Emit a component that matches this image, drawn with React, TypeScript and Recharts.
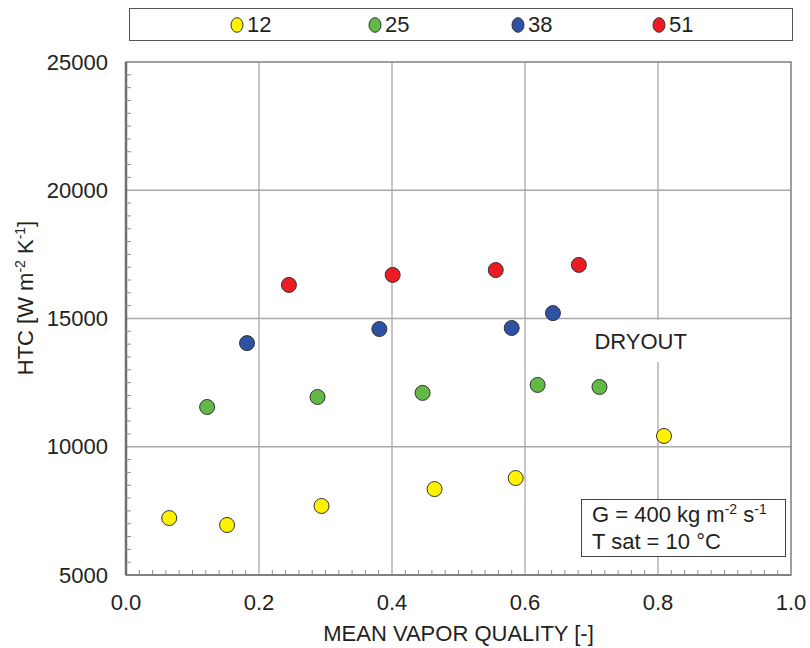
import {
  ScatterChart,
  Scatter,
  XAxis,
  YAxis,
  CartesianGrid,
  ReferenceArea,
  ReferenceDot,
} from "recharts";

const FONT = '"Liberation Sans", Arial, sans-serif';
const INK = "#231f20";
const FS = 22;

// mean vapor quality [-] vs HTC [W m-2 K-1], one list per series
const q12 = [0.065, 0.152, 0.294, 0.464, 0.586, 0.809];
const htc12 = [7220, 6950, 7690, 8350, 8780, 10420];

const q25 = [0.122, 0.288, 0.446, 0.619, 0.712];
const htc25 = [11550, 11940, 12100, 12410, 12330];

const q38 = [0.182, 0.381, 0.58, 0.642];
const htc38 = [14040, 14590, 14630, 15210];

const q51 = [0.245, 0.401, 0.556, 0.681];
const htc51 = [16310, 16700, 16890, 17090];

const xMajor = [0, 0.2, 0.4, 0.6, 0.8, 1.0];
const yMajor = [5000, 10000, 15000, 20000, 25000];

const xMinor: number[] = [];
for (let i = 0; i <= 50; i++) xMinor.push(+(i * 0.02).toFixed(2));
const yMinor: number[] = [];
for (let v = 5000; v <= 25000; v += 500) yMinor.push(v);

const toPoints = (xs: number[], ys: number[]) => xs.map((x, i) => ({ x, y: ys[i] }));

const series = [
  { name: "12", color: "#fff200", data: toPoints(q12, htc12) },
  { name: "25", color: "#62b946", data: toPoints(q25, htc25) },
  { name: "38", color: "#2e52a3", data: toPoints(q38, htc38) },
  { name: "51", color: "#ed1c24", data: toPoints(q51, htc51) },
];

const isMajor = (v: number, majors: number[]) => majors.some((m) => Math.abs(m - v) < 1e-6);

const XTick = (props: any) => {
  const { x, y, payload } = props;
  const major = isMajor(payload.value, xMajor);
  return (
    <g>
      {!major && <line x1={x} y1={y} x2={x} y2={y - 5} stroke="#8a8a8a" strokeWidth={1} />}
      {major && (
        <text x={x} y={y + 27} dy="0.35em" textAnchor="middle" fontSize={FS} fill={INK} fontFamily={FONT}>
          {payload.value.toFixed(1)}
        </text>
      )}
    </g>
  );
};

const YTick = (props: any) => {
  const { x, y, payload } = props;
  const major = isMajor(payload.value, yMajor);
  return (
    <g>
      {!major && <line x1={x} y1={y} x2={x + 5} y2={y} stroke="#8a8a8a" strokeWidth={1} />}
      {major && (
        <text x={x - 18} y={y} dy="0.35em" textAnchor="end" fontSize={FS} fill={INK} fontFamily={FONT}>
          {payload.value}
        </text>
      )}
    </g>
  );
};

const Dot = (props: any) => (
  <circle cx={props.cx} cy={props.cy} r={7.5} fill={props.fill} stroke="#333" strokeWidth={1} />
);

const Dryout = (props: any) => (
  <g>
    <rect x={props.cx - 50} y={props.cy - 21} width={100} height={42} fill="#fff" />
    <text x={props.cx} y={props.cy} dy="0.35em" textAnchor="middle" fontSize={FS} fill={INK} fontFamily={FONT}>
      DRYOUT
    </text>
  </g>
);

export default function App() {
  return (
    <div
      style={{
        position: "absolute",
        left: 0,
        top: 0,
        width: 810,
        height: 648,
        overflow: "hidden",
        background: "#fff",
        fontFamily: FONT,
        color: INK,
      }}
    >
      {/* legend */}
      <div
        style={{
          position: "absolute",
          left: 129,
          top: 8,
          width: 664,
          height: 33,
          border: "1.5px solid #555",
          boxSizing: "border-box",
          background: "#fff",
        }}
      >
        {series.map((s, i) => (
          <span
            key={s.name}
            style={{
              position: "absolute",
              left: [100, 238, 381, 522][i],
              top: 3,
              display: "flex",
              alignItems: "center",
              fontSize: FS,
              lineHeight: "25px",
            }}
          >
            <svg width={14} height={16} style={{ marginRight: 3 }}>
              <ellipse cx={7} cy={8} rx={6} ry={7.3} fill={s.color} stroke="#333" strokeWidth={1} />
            </svg>
            {s.name}
          </span>
        ))}
      </div>

      <ScatterChart width={810} height={648} margin={{ top: 62, right: 19, bottom: 0, left: 0 }}>
        <CartesianGrid
          horizontalValues={[10000, 15000, 20000]}
          verticalValues={[0.2, 0.4, 0.6, 0.8]}
          stroke="#a8a8a8"
          strokeWidth={1.3}
        />
        <XAxis
          type="number"
          dataKey="x"
          domain={[0, 1]}
          ticks={xMinor}
          interval={0}
          tickSize={0}
          tickMargin={0}
          tickLine={false}
          tick={<XTick />}
          height={73}
          axisLine={{ stroke: "#808080", strokeWidth: 2 }}
          allowDataOverflow
          label={{
            content: (p: any) => (
              <text
                x={p.viewBox.x + p.viewBox.width / 2}
                y={p.viewBox.y + 66}
                textAnchor="middle"
                fontSize={FS}
                fill={INK}
                fontFamily={FONT}
              >
                MEAN VAPOR QUALITY [-]
              </text>
            ),
          }}
        />
        <YAxis
          type="number"
          dataKey="y"
          domain={[5000, 25000]}
          ticks={yMinor}
          interval={0}
          tickSize={0}
          tickMargin={0}
          tickLine={false}
          tick={<YTick />}
          width={126}
          axisLine={{ stroke: "#6d6e71", strokeWidth: 2.5 }}
          allowDataOverflow
          label={{
            content: (p: any) => {
              const cx = p.viewBox.x + 25;
              const cy = 298;
              return (
                <text
                  x={cx}
                  y={cy}
                  dy="0.35em"
                  transform={`rotate(-90 ${cx} ${cy})`}
                  textAnchor="middle"
                  fontSize={FS}
                  fill={INK}
                  fontFamily={FONT}
                >
                  HTC [W m
                  <tspan baselineShift="super" fontSize={14}>-2</tspan>
                  <tspan> K</tspan>
                  <tspan baselineShift="super" fontSize={14}>-1</tspan>
                  <tspan>]</tspan>
                </text>
              );
            },
          }}
        />
        <ReferenceArea x1={0} x2={1} y1={5000} y2={25000} fill="none" stroke="#808080" strokeWidth={1.5} />
        {series.map((s) => (
          <Scatter key={s.name} name={s.name} data={s.data} fill={s.color} shape={<Dot />} isAnimationActive={false} />
        ))}
        <ReferenceDot x={0.774} y={14120} r={0} shape={<Dryout />} />
      </ScatterChart>

      {/* conditions box */}
      <div
        style={{
          position: "absolute",
          left: 581,
          top: 499,
          width: 205,
          height: 58,
          border: "1.5px solid #444",
          boxSizing: "border-box",
          background: "#fff",
          fontSize: FS,
          lineHeight: "27px",
          padding: "1px 0 0 10px",
          whiteSpace: "nowrap",
        }}
      >
        <div>
          G = 400 kg m<sup style={{ fontSize: 14, lineHeight: 0 }}>-2</sup> s<sup style={{ fontSize: 14, lineHeight: 0 }}>-1</sup>
        </div>
        <div>T sat = 10 °C</div>
      </div>
    </div>
  );
}
